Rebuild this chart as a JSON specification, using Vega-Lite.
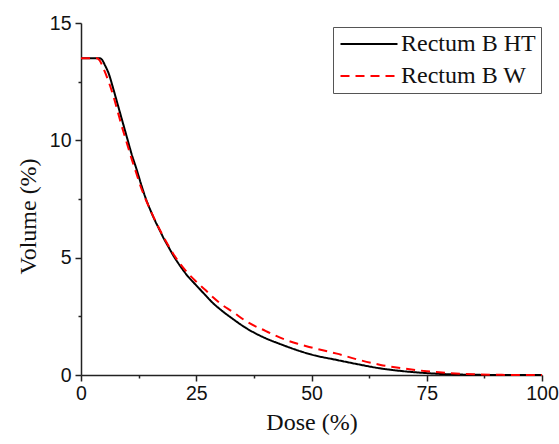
{
  "$schema": "https://vega.github.io/schema/vega-lite/v6.json",
  "width": 461,
  "height": 352,
  "autosize": {"type": "none"},
  "padding": {"left": 81, "top": 23, "right": 17, "bottom": 69},
  "background": "white",
  "config": {"view": {"stroke": null}},
  "datasets": {
    "curves": [
      {"dose": 0, "vol": 13.5, "series": "Rectum B HT"},
      {"dose": 2, "vol": 13.5, "series": "Rectum B HT"},
      {"dose": 4, "vol": 13.5, "series": "Rectum B HT"},
      {"dose": 4.5, "vol": 13.45, "series": "Rectum B HT"},
      {"dose": 5.2, "vol": 13.2, "series": "Rectum B HT"},
      {"dose": 6, "vol": 12.85, "series": "Rectum B HT"},
      {"dose": 7, "vol": 12.2, "series": "Rectum B HT"},
      {"dose": 8, "vol": 11.5, "series": "Rectum B HT"},
      {"dose": 9, "vol": 10.8, "series": "Rectum B HT"},
      {"dose": 10, "vol": 10.1, "series": "Rectum B HT"},
      {"dose": 11, "vol": 9.4, "series": "Rectum B HT"},
      {"dose": 12, "vol": 8.8, "series": "Rectum B HT"},
      {"dose": 13, "vol": 8.15, "series": "Rectum B HT"},
      {"dose": 14, "vol": 7.55, "series": "Rectum B HT"},
      {"dose": 15, "vol": 7.05, "series": "Rectum B HT"},
      {"dose": 16, "vol": 6.6, "series": "Rectum B HT"},
      {"dose": 17, "vol": 6.2, "series": "Rectum B HT"},
      {"dose": 18, "vol": 5.8, "series": "Rectum B HT"},
      {"dose": 19, "vol": 5.45, "series": "Rectum B HT"},
      {"dose": 20, "vol": 5.1, "series": "Rectum B HT"},
      {"dose": 21.5, "vol": 4.65, "series": "Rectum B HT"},
      {"dose": 23, "vol": 4.25, "series": "Rectum B HT"},
      {"dose": 25, "vol": 3.82, "series": "Rectum B HT"},
      {"dose": 27, "vol": 3.4, "series": "Rectum B HT"},
      {"dose": 28.7, "vol": 3.05, "series": "Rectum B HT"},
      {"dose": 30, "vol": 2.83, "series": "Rectum B HT"},
      {"dose": 33, "vol": 2.38, "series": "Rectum B HT"},
      {"dose": 35.9, "vol": 1.99, "series": "Rectum B HT"},
      {"dose": 40, "vol": 1.57, "series": "Rectum B HT"},
      {"dose": 43.2, "vol": 1.32, "series": "Rectum B HT"},
      {"dose": 47, "vol": 1.05, "series": "Rectum B HT"},
      {"dose": 50, "vol": 0.87, "series": "Rectum B HT"},
      {"dose": 55.5, "vol": 0.64, "series": "Rectum B HT"},
      {"dose": 60, "vol": 0.46, "series": "Rectum B HT"},
      {"dose": 65, "vol": 0.28, "series": "Rectum B HT"},
      {"dose": 70, "vol": 0.16, "series": "Rectum B HT"},
      {"dose": 75, "vol": 0.08, "series": "Rectum B HT"},
      {"dose": 80, "vol": 0.03, "series": "Rectum B HT"},
      {"dose": 85, "vol": 0.01, "series": "Rectum B HT"},
      {"dose": 90, "vol": 0, "series": "Rectum B HT"},
      {"dose": 100, "vol": 0, "series": "Rectum B HT"},
      {"dose": 0, "vol": 13.5, "series": "Rectum B W"},
      {"dose": 3.5, "vol": 13.5, "series": "Rectum B W"},
      {"dose": 4, "vol": 13.42, "series": "Rectum B W"},
      {"dose": 5, "vol": 13.0, "series": "Rectum B W"},
      {"dose": 6, "vol": 12.5, "series": "Rectum B W"},
      {"dose": 7, "vol": 11.9, "series": "Rectum B W"},
      {"dose": 8, "vol": 11.2, "series": "Rectum B W"},
      {"dose": 9, "vol": 10.5, "series": "Rectum B W"},
      {"dose": 10, "vol": 9.85, "series": "Rectum B W"},
      {"dose": 11, "vol": 9.2, "series": "Rectum B W"},
      {"dose": 12, "vol": 8.6, "series": "Rectum B W"},
      {"dose": 13, "vol": 8.0, "series": "Rectum B W"},
      {"dose": 14, "vol": 7.5, "series": "Rectum B W"},
      {"dose": 15, "vol": 7.05, "series": "Rectum B W"},
      {"dose": 16, "vol": 6.62, "series": "Rectum B W"},
      {"dose": 17, "vol": 6.22, "series": "Rectum B W"},
      {"dose": 18, "vol": 5.85, "series": "Rectum B W"},
      {"dose": 19, "vol": 5.5, "series": "Rectum B W"},
      {"dose": 20, "vol": 5.17, "series": "Rectum B W"},
      {"dose": 21.5, "vol": 4.74, "series": "Rectum B W"},
      {"dose": 23, "vol": 4.38, "series": "Rectum B W"},
      {"dose": 25, "vol": 3.98, "series": "Rectum B W"},
      {"dose": 27, "vol": 3.62, "series": "Rectum B W"},
      {"dose": 28.7, "vol": 3.3, "series": "Rectum B W"},
      {"dose": 30, "vol": 3.08, "series": "Rectum B W"},
      {"dose": 33, "vol": 2.68, "series": "Rectum B W"},
      {"dose": 35.9, "vol": 2.28, "series": "Rectum B W"},
      {"dose": 40, "vol": 1.88, "series": "Rectum B W"},
      {"dose": 43.2, "vol": 1.59, "series": "Rectum B W"},
      {"dose": 47, "vol": 1.33, "series": "Rectum B W"},
      {"dose": 50, "vol": 1.17, "series": "Rectum B W"},
      {"dose": 55.5, "vol": 0.91, "series": "Rectum B W"},
      {"dose": 60, "vol": 0.66, "series": "Rectum B W"},
      {"dose": 65, "vol": 0.43, "series": "Rectum B W"},
      {"dose": 70, "vol": 0.28, "series": "Rectum B W"},
      {"dose": 75, "vol": 0.16, "series": "Rectum B W"},
      {"dose": 80, "vol": 0.08, "series": "Rectum B W"},
      {"dose": 85, "vol": 0.03, "series": "Rectum B W"},
      {"dose": 90, "vol": 0.01, "series": "Rectum B W"},
      {"dose": 95, "vol": 0, "series": "Rectum B W"},
      {"dose": 100, "vol": 0, "series": "Rectum B W"}
    ]
  },
  "data": {"name": "curves"},
  "resolve": {"axis": {"x": "independent", "y": "independent"}},
  "layer": [
    {
      "mark": {"type": "line", "opacity": 0},
      "encoding": {
        "x": {
          "field": "dose",
          "type": "quantitative",
          "scale": {"domain": [0, 100], "nice": false, "zero": false},
          "axis": {
            "orient": "bottom",
            "title": null,
            "values": [12.5, 37.5, 62.5, 87.5],
            "labels": false,
            "domain": false,
            "grid": false,
            "tickColor": "#222",
            "tickWidth": 1.5,
            "tickSize": 3
          }
        },
        "y": {
          "field": "vol",
          "type": "quantitative",
          "scale": {"domain": [0, 15], "nice": false},
          "axis": {
            "orient": "left",
            "title": null,
            "values": [2.5, 7.5, 12.5],
            "labels": false,
            "domain": false,
            "grid": false,
            "tickColor": "#222",
            "tickWidth": 1.5,
            "tickSize": 3
          }
        },
        "detail": {"field": "series", "type": "nominal"}
      }
    },
    {
      "mark": {"type": "line", "strokeWidth": 2, "interpolate": "monotone", "clip": false},
      "encoding": {
        "x": {
          "field": "dose",
          "type": "quantitative",
          "scale": {"domain": [0, 100], "nice": false, "zero": false},
          "axis": {
            "orient": "bottom",
            "title": "Dose (%)",
            "values": [0, 25, 50, 75, 100],
            "labelOverlap": false,
            "labelFlush": false,
            "grid": false,
            "domainColor": "#222",
            "domainWidth": 1.5,
            "tickColor": "#222",
            "tickWidth": 1.5,
            "tickSize": 6,
            "labelPadding": 3,
            "labelFont": "Liberation Sans",
            "labelFontSize": 19.5,
            "labelColor": "#111",
            "titleFont": "Liberation Serif",
            "titleFontSize": 24,
            "titleFontWeight": "normal",
            "titleColor": "#111",
            "titlePadding": 8
          }
        },
        "y": {
          "field": "vol",
          "type": "quantitative",
          "scale": {"domain": [0, 15], "nice": false},
          "axis": {
            "orient": "left",
            "title": "Volume (%)",
            "values": [0, 5, 10, 15],
            "labelOverlap": false,
            "labelFlush": false,
            "grid": false,
            "domainColor": "#222",
            "domainWidth": 1.5,
            "tickColor": "#222",
            "tickWidth": 1.5,
            "tickSize": 6,
            "labelPadding": 4,
            "labelFont": "Liberation Sans",
            "labelFontSize": 19.5,
            "labelColor": "#111",
            "titleFont": "Liberation Serif",
            "titleFontSize": 24,
            "titleFontWeight": "normal",
            "titleColor": "#111",
            "titlePadding": 9,
            "titleY": 193
          }
        },
        "color": {
          "field": "series",
          "type": "nominal",
          "scale": {"domain": ["Rectum B HT", "Rectum B W"], "range": ["#000000", "#ff0000"]},
          "legend": {
            "title": null,
            "orient": "none",
            "legendX": 252,
            "legendY": 4,
            "direction": "vertical",
            "strokeColor": "#555",
            "fillColor": "white",
            "padding": 5,
            "rowPadding": 8,
            "symbolType": "M-1,0H5",
            "symbolSize": 361,
            "symbolStrokeWidth": 2,
            "labelOffset": 39,
            "labelFont": "Liberation Serif",
            "labelFontSize": 24,
            "labelColor": "#111",
            "labelLimit": 300
          }
        },
        "strokeDash": {
          "field": "series",
          "type": "nominal",
          "scale": {"domain": ["Rectum B HT", "Rectum B W"], "range": [[1, 0], [9, 6]]},
          "legend": null
        }
      }
    }
  ]
}
